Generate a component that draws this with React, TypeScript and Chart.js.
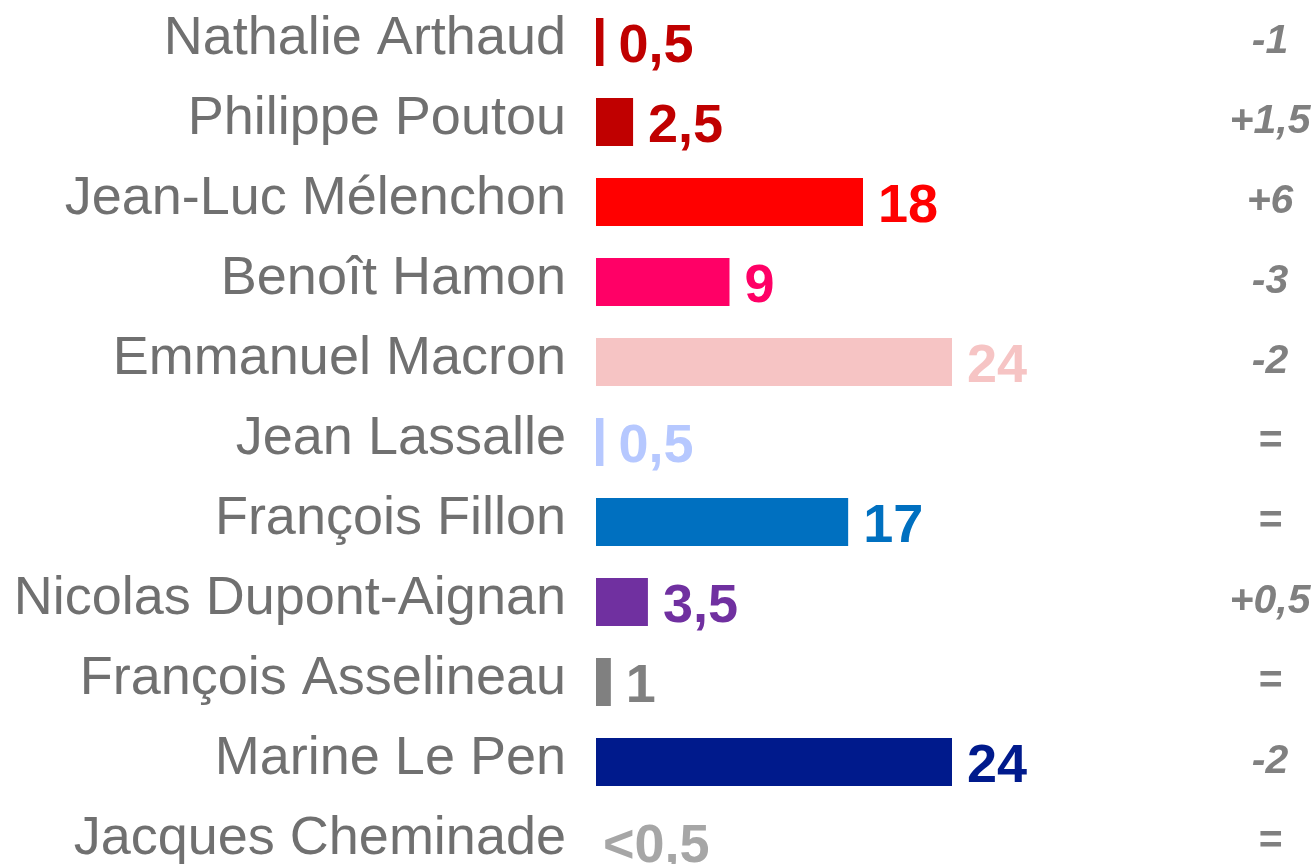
import React, { useEffect, useRef } from "react";
import { Chart, registerables } from "chart.js";

Chart.register(...registerables);

const candidates = [
  "Nathalie Arthaud",
  "Philippe Poutou",
  "Jean-Luc Mélenchon",
  "Benoît Hamon",
  "Emmanuel Macron",
  "Jean Lassalle",
  "François Fillon",
  "Nicolas Dupont-Aignan",
  "François Asselineau",
  "Marine Le Pen",
  "Jacques Cheminade",
];

const values = [0.5, 2.5, 18, 9, 24, 0.5, 17, 3.5, 1, 24, 0];

const valueLabels = ["0,5", "2,5", "18", "9", "24", "0,5", "17", "3,5", "1", "24", "<0,5"];

const changes = ["-1", "+1,5", "+6", "-3", "-2", "=", "=", "+0,5", "=", "-2", "="];

const barColors = [
  "#c00000",
  "#c00000",
  "#ff0000",
  "#ff0066",
  "#f6c4c4",
  "#b6c8ff",
  "#0070c0",
  "#7030a0",
  "#808080",
  "#001a8c",
  "#a6a6a6",
];

const FONT = '"Liberation Sans", Arial, sans-serif';

const labelsPlugin = {
  id: "customLabels",
  afterDatasetsDraw(chart: any) {
    const ctx = chart.ctx;
    const xs = chart.scales.x;
    const ys = chart.scales.y;
    ctx.save();
    for (let i = 0; i < candidates.length; i++) {
      const y = ys.getPixelForValue(i);
      // candidate name
      ctx.font = `54px ${FONT}`;
      ctx.fillStyle = "#707070";
      ctx.textAlign = "right";
      ctx.textBaseline = "alphabetic";
      ctx.fillText(candidates[i], chart.chartArea.left - 30, y + 12);
      // value label
      const xEnd = xs.getPixelForValue(values[i]);
      ctx.font = `bold 54px ${FONT}`;
      ctx.fillStyle = barColors[i];
      ctx.textAlign = "left";
      ctx.fillText(valueLabels[i], xEnd + (values[i] > 0 ? 15 : 7), y + 20);
      // change
      ctx.font = `italic bold 41px ${FONT}`;
      ctx.fillStyle = "#808080";
      ctx.textAlign = "center";
      ctx.fillText(changes[i], chart.width - 44, y + 11);
    }
    ctx.restore();
  },
};

export default function App() {
  const ref = useRef<HTMLCanvasElement | null>(null);
  useEffect(() => {
    if (!ref.current) return;
    const chart = new Chart(ref.current, {
      type: "bar",
      data: {
        labels: candidates,
        datasets: [
          {
            data: values,
            backgroundColor: barColors,
            borderWidth: 0,
            barPercentage: 0.6,
            categoryPercentage: 1,
          },
        ],
      },
      options: {
        indexAxis: "y",
        responsive: false,
        animation: false,
        devicePixelRatio: 1,
        layout: { padding: { top: 2, bottom: 2, left: 0, right: 362 } },
        plugins: {
          legend: { display: false },
          tooltip: { enabled: false },
        },
        scales: {
          x: { display: false, min: 0, max: 24 },
          y: {
            ticks: { display: false },
            grid: { display: false, drawTicks: false },
            border: { display: false },
            afterFit: (s: any) => {
              s.width = 596;
            },
          },
        },
      },
      plugins: [labelsPlugin],
    });
    return () => chart.destroy();
  }, []);
  return (
    <div
      style={{
        position: "absolute",
        left: 0,
        top: 0,
        width: 1314,
        height: 864,
        overflow: "hidden",
        background: "#ffffff",
      }}
    >
      <canvas ref={ref} width={1314} height={884} style={{ display: "block" }} />
    </div>
  );
}
